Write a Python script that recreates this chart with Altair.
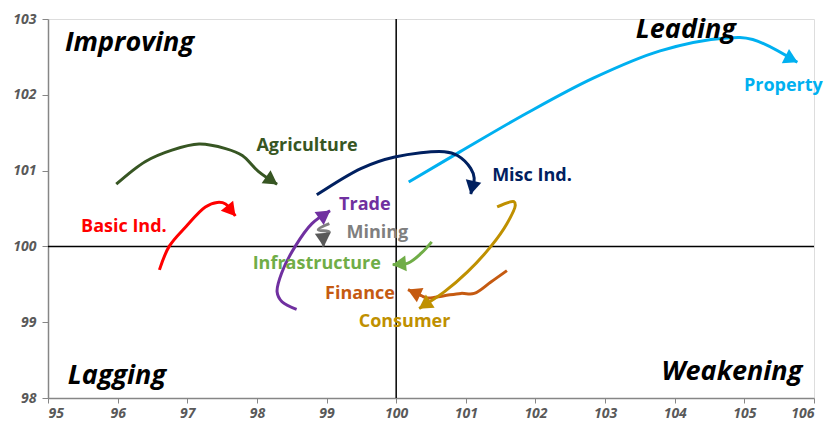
import math
import altair as alt
import pandas as pd

# ---- data ----
series = ["Property", "Misc Ind.", "Agriculture", "Basic Ind.", "Trade",
          "Mining", "Infrastructure", "Finance", "Consumer"]
colors = ["#00B0F0", "#002060", "#375623", "#FF0000", "#7030A0",
          "#7F7F7F", "#70AD47", "#C55A11", "#BF9000"]
arrow_colors = ["#00B0F0", "#002060", "#375623", "#FF0000", "#7030A0",
                "#595959", "#70AD47", "#C55A11", "#BF9000"]

paths_x = {
    "Property": [100.18, 100.92, 101.88, 102.83, 103.79, 104.74, 105.12, 105.76],
    "Misc Ind.": [98.86, 99.50, 99.98, 100.69, 100.88, 101.07, 101.12, 101.07],
    "Agriculture": [95.98, 96.40, 96.78, 97.17, 97.55, 97.79, 98.02, 98.29],
    "Basic Ind.": [96.60, 96.74, 96.98, 97.26, 97.43, 97.55, 97.69],
    "Trade": [98.57, 98.36, 98.29, 98.36, 98.55, 98.79, 99.05],
    "Mining": [99.04, 98.88, 99.04, 98.95, 98.96],
    "Infrastructure": [100.51, 100.36, 100.17, 99.95],
    "Finance": [101.59, 101.36, 101.12, 100.93, 100.69, 100.45, 100.36, 100.17],
    "Consumer": [101.45, 101.69, 101.71, 101.59, 101.36, 101.02, 100.69, 100.33],
}
paths_y = {
    "Property": [100.85, 101.25, 101.76, 102.22, 102.58, 102.75, 102.73, 102.43],
    "Misc Ind.": [100.68, 101.03, 101.18, 101.25, 101.20, 101.03, 100.90, 100.69],
    "Agriculture": [100.82, 101.12, 101.27, 101.35, 101.29, 101.20, 100.99, 100.82],
    "Basic Ind.": [99.69, 100.00, 100.26, 100.52, 100.58, 100.56, 100.40],
    "Trade": [99.17, 99.27, 99.40, 99.66, 100.00, 100.30, 100.47],
    "Mining": [100.30, 100.22, 100.19, 100.12, 100.00],
    "Infrastructure": [100.06, 99.91, 99.78, 99.76],
    "Finance": [99.68, 99.53, 99.38, 99.38, 99.35, 99.32, 99.35, 99.43],
    "Consumer": [100.52, 100.59, 100.54, 100.30, 100.00, 99.66, 99.40, 99.18],
}

label_x = [105.56, 101.95, 98.72, 96.09, 99.55, 99.73, 98.86, 99.48, 100.12]
label_y = [102.12, 100.93, 101.32, 100.25, 100.54, 100.18, 99.77, 99.37, 99.00]

quad_names = ["Improving", "Leading", "Lagging", "Weakening"]
quad_x = [96.17, 104.16, 95.99, 104.82]
quad_y = [102.68, 102.86, 98.29, 98.34]

x_ticks = list(range(95, 107))
y_ticks = list(range(98, 104))

# ---- layout ----
W, H = 766, 379
XMIN, XMAX, YMIN, YMAX = 95, 106, 98, 103
PX_X = W / (XMAX - XMIN)
PX_Y = H / (YMAX - YMIN)

rows = []
arrows = []
for s, c, ac in zip(series, colors, arrow_colors):
    xs, ys = paths_x[s], paths_y[s]
    for i, (xv, yv) in enumerate(zip(xs, ys)):
        rows.append({"series": s, "order": i, "x": xv, "y": yv})
    dxp = (xs[-1] - xs[-2]) * PX_X
    dyp = (ys[-1] - ys[-2]) * PX_Y
    ang = math.degrees(math.atan2(dxp, dyp)) % 360
    n = math.hypot(dxp, dyp)
    back = 6.5
    cx = xs[-1] - (dxp / n) * back / PX_X
    cy = ys[-1] - (dyp / n) * back / PX_Y
    arrows.append({"series": s, "x": cx, "y": cy, "angle": ang, "acolor": ac})

df = pd.DataFrame(rows)
adf = pd.DataFrame(arrows)
ldf = pd.DataFrame({"series": series, "x": label_x, "y": label_y})
qdf = pd.DataFrame({"name": quad_names, "x": quad_x, "y": quad_y})

xscale = alt.Scale(domain=[XMIN, XMAX], nice=False, zero=False)
yscale = alt.Scale(domain=[YMIN, YMAX], nice=False, zero=False)
cscale = alt.Scale(domain=series, range=colors)

axis_common = dict(
    labelFont="Open Sans", labelFontSize=14, labelFontStyle="italic",
    labelFontWeight="bold", labelColor="#595959", domainColor="#868686",
    tickColor="#868686", grid=False, title=None, domainWidth=1.5,
    format="d",
)
xaxis = alt.Axis(values=x_ticks, tickSize=5, labelPadding=3, **axis_common)
yaxis = alt.Axis(values=y_ticks, tickSize=6, labelPadding=6, **axis_common)

base_x = alt.X("x:Q", scale=xscale, axis=xaxis)
base_y = alt.Y("y:Q", scale=yscale, axis=yaxis)

vline = alt.Chart(pd.DataFrame({"x": [100]})).mark_rule(
    color="black", strokeWidth=1.5).encode(x=alt.X("x:Q", scale=xscale))
hline = alt.Chart(pd.DataFrame({"y": [100]})).mark_rule(
    color="black", strokeWidth=1.5).encode(y=alt.Y("y:Q", scale=yscale))

lines = alt.Chart(df).mark_line(
    strokeWidth=3, interpolate="catmull-rom", strokeCap="butt"
).encode(
    x=base_x, y=base_y,
    color=alt.Color("series:N", scale=cscale, legend=None),
    detail="series:N",
    order="order:Q",
)

heads = alt.Chart(adf).mark_point(
    shape="triangle-up", filled=True, opacity=1, size=250, strokeWidth=0
).encode(
    x=alt.X("x:Q", scale=xscale), y=alt.Y("y:Q", scale=yscale),
    angle=alt.Angle("angle:Q", scale=None),
    color=alt.Color("acolor:N", scale=None),
)

labels = alt.Chart(ldf).mark_text(
    font="Open Sans", fontSize=18, fontWeight="bold", align="center",
    baseline="middle"
).encode(
    x=alt.X("x:Q", scale=xscale), y=alt.Y("y:Q", scale=yscale),
    text="series:N",
    color=alt.Color("series:N", scale=cscale, legend=None),
)

quads = alt.Chart(qdf).mark_text(
    font="Open Sans", fontSize=27, fontWeight="bold", fontStyle="italic",
    align="center", baseline="middle", color="black"
).encode(
    x=alt.X("x:Q", scale=xscale), y=alt.Y("y:Q", scale=yscale),
    text="name:N",
)

chart = alt.layer(vline, hline, lines, heads, labels, quads).properties(
    width=W, height=H,
    autosize=alt.AutoSizeParams(type="none"),
    padding={"left": 40, "top": 11, "right": 13, "bottom": 24},
).configure_view(stroke=None).configure(background="white")

chart.save("out.html", embed_options={"renderer": "svg", "actions": False})
